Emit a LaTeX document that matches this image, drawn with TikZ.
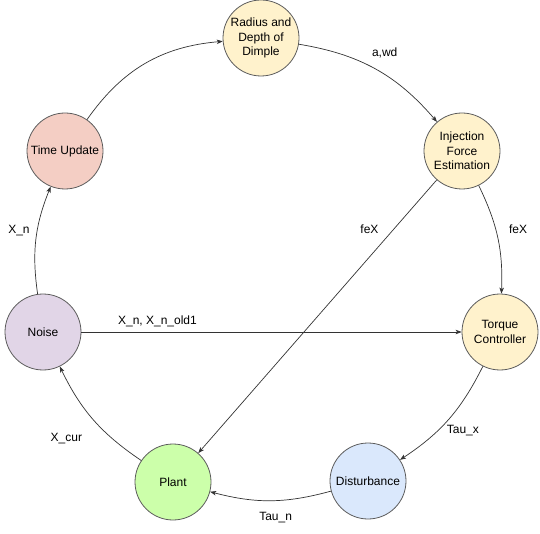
\documentclass[tikz,border=0pt]{standalone}
\usepackage{fontspec}
\setmainfont{Liberation Sans}
\usetikzlibrary{arrows.meta}
\definecolor{stateyellow}{HTML}{FFF2CC}
\definecolor{stateblue}{HTML}{DAE8FC}
\definecolor{stategreen}{HTML}{CCFFAA}
\definecolor{statepurple}{HTML}{E1D5E7}
\definecolor{statered}{HTML}{F4CEC4}
\definecolor{linegray}{HTML}{333333}

\begin{document}
\begin{tikzpicture}[
		x=1pt,y=1pt,
		every node/.style={font=\fontsize{12}{14.5}\selectfont},
		state/.style={circle,draw=linegray!80,line width=0.8pt,minimum size=76pt,
			inner sep=1pt,align=center},
		flow/.style={-{Stealth[length=6pt,width=4.5pt,inset=1.5pt]},line width=0.7pt,draw=linegray},
		edge label/.style={inner sep=3pt}
		]
		\useasboundingbox (0,0) rectangle (540,533);
		\node[state,fill=stateyellow] (dimple)    at (261,495) {Radius and\\Depth of\\Dimple};
		\node[state,fill=stateyellow] (injection) at (462,382) {Injection\\Force\\Estimation};
		\node[state,fill=stateyellow] (torque)    at (500,201) {Torque\\Controller};
		\node[state,fill=stateblue]   (disturb)   at (368,52)  {Disturbance};
		\node[state,fill=stategreen]  (plant)     at (173,51)  {Plant};
		\node[state,fill=statepurple] (noise)     at (43,201)  {Noise};
		\node[state,fill=statered]    (timeupd)   at (65,382)  {Time Update};

		\draw[flow] (timeupd) to[bend left=25] (dimple);
		\draw[flow] (dimple) to[bend left=20] node[edge label,above right,xshift=-7pt,yshift=8pt] {a,wd} (injection);
		\draw[flow] (injection) to[bend left=14] node[edge label,right,xshift=8pt,yshift=9pt] {feX} (torque);
		\draw[flow] (injection) -- node[edge label,pos=0.18,left=12pt] {feX} (plant);
		\draw[flow] (noise) -- node[edge label,pos=0.2,above,yshift=2pt] {X\_n, X\_n\_old1} (torque);
		\draw[flow] (torque) to[bend left=15] node[edge label,below right,xshift=-5pt,yshift=-3pt] {Tau\_x} (disturb);
		\draw[flow] (disturb) to[bend left=15] node[edge label,below=8pt,xshift=5pt] {Tau\_n} (plant);
		\draw[flow] (plant) to[bend left=15] node[edge label,below left,xshift=-8pt,yshift=-10pt] {X\_cur} (noise);
		\draw[flow] (noise) to[bend left=15] node[edge label,left,xshift=-3pt,yshift=9pt] {X\_n} (timeupd);
	\end{tikzpicture}
\end{document}
